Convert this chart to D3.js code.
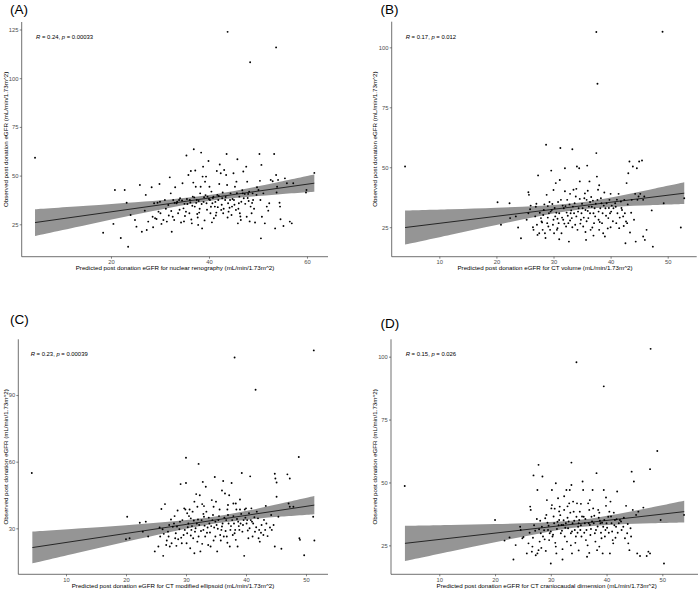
<!DOCTYPE html>
<html>
<head>
<meta charset="utf-8">
<script src="https://cdn.jsdelivr.net/npm/d3@7/dist/d3.min.js"></script>
<style>
  html, body { margin: 0; padding: 0; background: #ffffff; }
  svg { display: block; }
  text { font-family: "Liberation Sans", Arial, Helvetica, sans-serif; }
</style>
</head>
<body>
<div id="chart"></div>
<script>
// ---------- DATA (predicted x, observed y) ----------
const panelA = [
[4.5,59.2],[43.8,123.8],[53.7,115.8],[48.4,108.2],[18.4,20.7],[20.5,25.2],[20.8,42.6],[22.0,18.0],[22.8,42.6],[23.2,36.1],
[23.5,13.5],[24.0,29.8],[24.9,27.2],[25.2,23.8],[25.9,45.2],[26.3,21.2],[26.9,32.0],[27.1,40.1],[27.3,22.1],[27.6,26.4],
[28.3,44.0],[28.5,28.9],[28.6,23.5],[28.8,35.8],[29.0,28.1],[29.3,27.7],[29.5,36.1],[29.9,45.7],[30.0,36.6],[30.1,30.7],
[30.3,25.2],[30.7,27.2],[31.0,37.5],[31.4,26.4],[31.7,34.9],[32.0,49.1],[32.2,40.9],[32.4,21.2],[32.6,28.9],[32.7,37.5],
[32.9,27.2],[33.1,44.0],[33.4,35.8],[33.5,36.6],[33.7,30.7],[33.9,37.5],[34.1,38.4],[34.3,25.9],[34.6,46.1],[34.8,33.2],
[35.1,29.3],[35.4,60.3],[35.6,35.4],[35.8,50.3],[36.0,30.7],[36.1,37.5],[36.3,52.4],[36.5,25.5],[36.7,39.2],[36.8,46.4],
[36.9,63.5],[37.1,34.1],[37.2,52.6],[37.3,44.3],[37.5,37.5],[37.6,30.3],[37.8,24.7],[38.2,40.9],[38.3,44.3],[38.4,61.8],
[38.5,35.4],[38.6,22.9],[38.7,49.5],[38.8,54.6],[39.0,38.9],[39.2,46.9],[39.4,49.5],[39.5,35.8],[39.7,39.2],[39.9,57.5],
[40.1,44.3],[40.2,37.5],[40.3,30.7],[40.5,41.8],[40.7,35.8],[40.9,39.2],[41.0,28.1],[41.2,34.1],[41.6,52.4],[41.7,40.1],
[41.9,37.5],[42.1,45.7],[42.2,55.7],[42.4,51.2],[42.5,32.4],[42.7,38.4],[42.8,41.3],[42.9,30.7],[43.1,52.9],[43.3,37.5],
[43.5,50.3],[43.6,61.1],[43.7,45.2],[43.9,35.8],[44.0,31.5],[44.3,37.5],[44.4,40.9],[44.6,29.8],[44.7,34.1],[45.0,51.2],
[45.1,37.5],[45.3,44.3],[45.5,32.4],[45.6,46.9],[45.8,58.4],[45.9,25.5],[46.1,35.8],[46.2,39.2],[46.3,30.7],[46.5,27.2],
[46.6,36.6],[46.9,40.9],[47.0,52.1],[47.1,38.4],[47.3,40.6],[47.6,54.6],[47.7,28.9],[47.8,46.9],[48.0,40.6],[48.1,37.0],
[48.2,41.8],[48.5,34.1],[48.7,30.7],[48.9,40.9],[49.0,37.5],[49.4,25.9],[49.7,40.1],[50.1,42.6],[50.3,61.1],[50.4,47.3],
[50.5,37.5],[50.7,55.5],[50.8,28.9],[51.1,40.9],[51.4,25.5],[51.8,34.1],[52.1,32.0],[52.3,35.8],[52.6,47.8],[53.0,47.1],
[53.3,61.1],[53.5,22.9],[53.7,50.3],[53.8,41.3],[53.9,44.3],[54.1,47.8],[54.4,36.1],[54.5,34.1],[54.6,27.6],[55.2,24.1],
[55.5,48.6],[55.9,46.1],[56.5,26.4],[56.9,25.5],[57.2,46.1],[59.8,41.3],[59.9,42.6],[61.5,51.4],[50.6,17.8],
[33.0,36.0],[34.5,37.2],[35.0,35.5],[35.5,38.0],[36.2,36.2],[36.6,34.5],[37.0,38.8],[37.4,36.0],[37.9,37.0],[38.1,33.0],
[38.9,36.5],[39.3,40.0],[39.6,32.5],[40.0,38.0],[40.4,34.0],[40.8,38.5],[41.3,36.5],[41.5,31.0],[41.8,33.8],[42.0,39.5],
[42.6,35.0],[43.0,33.0],[43.4,39.0],[43.8,28.5],[44.2,33.5],[44.8,38.0],[45.2,35.0],[45.7,41.0],[46.0,33.0],[46.4,29.0],
[46.8,42.5],[47.4,35.5],[47.9,38.5],[48.3,26.5],[48.8,36.0],[49.2,33.0],[49.8,44.0],[31.2,33.0],[31.8,29.5],[32.3,31.8],
[34.0,32.5],[34.9,26.5],[35.3,31.5],[36.4,27.5],[37.7,28.5],[38.0,31.0],[39.1,27.0],[40.6,26.0],[41.4,29.5],[29.7,31.5]
];

const panelB = [
[4.0,50.3],[37.5,106.4],[37.7,84.8],[49.1,106.5],[20.2,35.4],[22.3,35.0],[20.8,26.0],[22.4,28.8],[23.4,29.5],[23.8,24.9],
[24.3,20.4],[25.3,28.1],[25.6,30.8],[25.6,39.6],[25.7,38.5],[25.9,32.5],[26.4,25.0],[26.5,23.9],[26.8,29.5],[27.1,26.0],
[27.2,21.8],[27.3,46.6],[27.5,22.5],[27.8,28.8],[27.9,27.4],[28.1,23.9],[28.2,30.1],[28.3,32.2],[28.5,22.5],[28.7,59.4],
[28.8,38.5],[28.9,26.7],[29.1,25.3],[29.2,30.8],[29.4,23.9],[29.6,48.6],[29.7,32.2],[29.8,34.7],[30.0,28.1],[30.1,22.5],
[30.3,29.5],[30.4,43.4],[30.6,23.9],[30.7,24.6],[30.9,26.7],[31.0,30.8],[31.1,44.7],[31.2,58.0],[31.3,36.4],[31.4,22.5],
[31.6,34.0],[31.7,28.1],[31.8,32.9],[32.0,49.6],[32.2,25.3],[32.3,31.1],[32.4,36.4],[32.6,26.7],[32.7,19.0],[32.9,38.9],
[33.0,30.8],[33.2,28.8],[33.3,57.5],[33.4,33.6],[33.5,40.6],[33.6,30.8],[33.8,26.0],[33.9,37.8],[34.1,50.3],[34.2,23.9],
[34.4,32.9],[34.5,49.6],[34.6,44.1],[34.8,28.1],[34.9,30.8],[35.1,32.9],[35.2,25.3],[35.4,37.1],[35.5,39.1],[35.6,32.2],
[35.7,19.7],[35.8,36.4],[35.9,50.7],[36.1,28.8],[36.2,33.6],[36.3,44.1],[36.4,30.8],[36.5,23.9],[36.6,37.6],[36.8,24.9],
[36.9,36.1],[37.0,30.8],[37.1,26.7],[37.2,32.9],[37.3,29.5],[37.5,55.9],[37.6,46.1],[37.7,36.4],[37.8,40.6],[37.9,28.1],
[38.0,23.9],[38.2,32.9],[38.3,37.1],[38.4,35.0],[38.5,26.7],[38.6,30.8],[38.7,22.5],[38.9,39.5],[39.0,21.1],[39.1,32.9],
[39.3,35.0],[39.6,28.8],[39.8,36.4],[39.9,30.8],[40.0,38.9],[40.2,34.0],[40.5,32.9],[40.8,35.0],[41.0,26.7],[41.2,30.8],
[41.4,38.9],[41.5,24.6],[41.8,35.7],[42.0,32.2],[42.2,29.5],[42.4,36.4],[42.5,30.8],[42.7,27.4],[42.8,43.4],[42.9,26.7],
[43.1,47.5],[43.3,52.4],[43.4,22.8],[43.7,36.4],[43.9,50.3],[44.1,28.1],[44.3,38.9],[44.6,49.6],[44.7,36.4],[44.9,37.8],
[45.0,52.4],[45.2,38.9],[45.5,52.8],[45.7,36.4],[45.9,37.8],[46.0,19.7],[46.3,23.9],[47.2,32.0],[47.4,16.9],[45.7,21.1],
[49.3,35.0],[52.3,24.9],[52.9,37.1],[44.4,19.0],[42.6,18.3],
[26.0,34.0],[26.9,33.5],[27.6,31.0],[28.0,27.0],[28.4,34.5],[29.0,29.0],[29.5,31.5],[29.9,26.0],[30.2,33.0],[30.5,31.0],
[30.8,35.5],[31.5,29.0],[31.9,26.5],[32.1,33.8],[32.5,29.8],[32.8,34.5],[33.1,32.0],[33.7,35.0],[34.0,29.5],[34.3,31.5],
[34.7,26.5],[35.0,34.8],[35.3,29.0],[35.8,27.5],[36.0,31.8],[36.7,33.5],[37.4,34.8],[37.9,31.5],[38.1,27.2],[38.8,34.0],
[39.2,29.8],[39.5,24.5],[40.1,31.5],[40.4,27.5],[40.9,33.5],[41.6,29.0],[41.9,33.0],[42.3,25.5],[43.0,34.5],[43.6,31.0],
[30.0,40.5],[32.0,40.0],[34.0,41.0],[36.0,40.2],[38.0,42.5],[40.0,25.0],[27.0,34.8],[29.3,35.5],[33.3,25.0],[35.6,23.0],
[37.0,21.5],[31.0,20.0],[28.6,20.5],[39.7,33.0],[41.1,36.5],[36.4,35.5],[34.6,36.8],[32.9,27.8],[30.7,28.5],[29.0,33.8]
];

const panelC = [
[4.3,54.9],[38.1,106.9],[41.6,92.4],[51.3,110.1],[48.8,62.1],[30.0,61.8],[32.1,59.0],[20.2,35.2],[20.6,25.5],[20.0,25.1],
[22.3,32.5],[22.8,28.5],[23.3,33.0],[23.7,26.3],[24.8,19.6],[25.4,21.8],[25.6,30.4],[25.7,26.3],[25.9,38.7],[26.1,29.6],
[26.2,17.6],[26.5,40.9],[26.7,22.5],[26.8,24.5],[27.1,26.3],[27.2,31.5],[27.3,21.8],[27.6,23.3],[27.8,30.7],[28.0,32.2],
[28.2,25.5],[28.3,27.8],[28.4,22.1],[28.7,25.1],[28.9,29.6],[29.1,49.9],[29.3,23.3],[29.4,33.7],[29.7,39.0],[29.8,29.3],
[29.9,38.5],[30.0,50.4],[30.1,23.3],[30.2,27.8],[30.4,32.2],[30.6,38.5],[30.7,21.0],[30.8,34.5],[30.9,29.3],[31.1,37.5],
[31.2,25.5],[31.4,18.8],[31.5,28.5],[31.7,45.4],[31.8,32.2],[31.9,39.7],[32.1,26.3],[32.2,31.5],[32.3,44.9],[32.4,19.6],
[32.6,33.7],[32.7,40.9],[32.8,50.9],[32.9,29.3],[33.0,35.2],[33.2,26.3],[33.3,48.7],[33.4,37.5],[33.6,30.4],[33.7,22.5],
[33.9,32.2],[34.0,28.1],[34.1,21.8],[34.3,42.7],[34.4,33.7],[34.6,39.7],[34.7,30.4],[34.8,53.1],[34.9,26.3],[35.1,31.5],
[35.2,19.6],[35.4,33.7],[35.6,38.5],[35.7,27.0],[35.8,24.5],[35.9,29.3],[36.1,32.2],[36.2,51.3],[36.3,26.3],[36.5,45.7],
[36.7,33.7],[36.8,26.3],[36.9,38.5],[37.1,32.2],[37.2,44.9],[37.3,21.8],[37.4,29.3],[37.6,50.4],[37.7,33.7],[37.8,27.0],
[37.9,41.2],[38.0,32.2],[38.2,29.3],[38.3,41.2],[38.4,38.5],[38.6,21.8],[38.7,33.0],[38.9,29.3],[39.0,38.5],[39.1,32.2],
[39.3,54.9],[39.4,28.5],[39.6,33.7],[39.7,17.6],[39.8,38.5],[40.0,39.0],[40.1,32.2],[40.2,33.7],[40.4,25.5],[40.6,30.0],
[40.7,53.4],[40.8,33.7],[40.9,39.0],[41.1,26.3],[41.2,32.2],[41.5,28.5],[41.8,37.5],[42.1,25.5],[42.2,29.3],[42.3,24.0],
[42.6,31.5],[42.9,27.0],[43.2,29.3],[43.4,32.2],[44.0,30.4],[44.3,29.3],[44.6,31.5],[44.8,21.8],[45.1,44.2],[45.4,35.2],
[44.8,54.6],[44.9,52.4],[45.1,50.6],[46.9,54.3],[47.3,52.4],[47.1,41.2],[47.3,39.7],[45.9,20.8],[48.9,25.5],[49.0,24.8],
[49.7,17.9],[51.2,35.2],[51.4,24.5],[47.9,39.7],[43.3,40.1],
[27.5,34.0],[28.5,30.8],[29.0,33.0],[29.6,27.0],[30.3,30.5],[30.5,35.5],[31.0,31.0],[31.3,33.5],[31.6,30.0],[32.0,34.0],
[32.5,28.8],[32.9,36.5],[33.1,31.2],[33.5,28.0],[33.8,34.8],[34.2,31.0],[34.5,36.0],[34.9,33.0],[35.3,29.8],[35.5,35.5],
[36.0,30.8],[36.4,34.8],[36.6,28.8],[37.0,36.0],[37.5,31.0],[37.9,35.5],[38.1,27.8],[38.5,34.2],[38.8,31.0],[39.2,36.5],
[39.5,31.5],[39.9,34.8],[40.3,29.0],[40.5,36.8],[41.0,33.0],[41.4,35.0],[41.7,30.5],[42.0,34.5],[42.5,28.0],[43.0,33.8],
[43.6,26.5],[44.2,36.0],[26.3,27.5],[27.0,28.5],[28.1,35.5],[29.2,25.8],[30.8,26.8],[31.9,24.0],[32.7,23.0],[34.6,24.5],
[36.9,23.5],[38.3,24.8],[33.0,40.0],[35.0,42.0],[37.0,40.5],[39.0,43.0],[31.4,42.0],[36.0,47.0],[30.2,36.8],[28.6,38.0]
];

const panelD = [
[3.8,48.6],[34.6,97.8],[39.5,88.2],[47.9,103.1],[49.1,62.5],[47.8,55.3],[27.8,57.0],[33.7,57.9],[20.0,35.1],[21.7,26.9],
[22.6,28.1],[23.3,19.4],[23.7,25.1],[24.5,32.4],[24.6,31.1],[24.9,27.8],[25.1,28.3],[25.7,21.8],[26.0,25.8],[26.3,40.4],
[26.4,39.1],[26.6,22.5],[26.7,24.5],[26.9,52.8],[27.2,30.8],[27.3,21.1],[27.6,21.8],[27.6,47.0],[27.8,23.1],[27.9,31.4],
[28.1,34.8],[28.2,29.8],[28.4,32.4],[28.5,52.4],[28.6,28.5],[28.9,27.4],[29.2,37.1],[29.4,34.0],[29.5,31.1],[29.7,27.1],
[29.8,29.8],[30.0,17.8],[30.1,39.7],[30.2,47.0],[30.3,28.5],[30.4,29.2],[30.6,33.8],[30.7,39.6],[30.9,49.7],[31.0,21.8],
[31.2,34.4],[31.3,43.7],[31.5,35.1],[31.6,40.4],[31.8,29.8],[31.9,33.1],[32.1,19.4],[32.2,33.1],[32.4,39.1],[32.5,28.5],
[32.7,33.8],[32.8,47.0],[33.0,36.0],[33.1,31.8],[33.3,41.7],[33.4,47.0],[33.6,29.8],[33.7,49.0],[33.8,21.8],[33.9,33.8],
[34.0,42.4],[34.1,38.4],[34.3,31.1],[34.5,28.5],[34.6,36.4],[34.7,41.7],[34.9,32.4],[35.0,33.8],[35.1,35.1],[35.2,38.4],
[35.3,31.1],[35.5,28.5],[35.7,50.4],[35.8,47.0],[35.9,36.4],[36.1,33.8],[36.3,27.1],[36.4,31.1],[36.5,20.5],[36.7,41.7],
[36.8,33.8],[36.9,39.1],[37.0,33.1],[37.1,29.1],[37.3,36.4],[37.5,47.0],[37.6,39.7],[37.7,33.8],[37.9,29.8],[38.1,31.1],
[38.2,53.7],[38.3,23.1],[38.5,39.1],[38.7,38.0],[38.8,34.8],[38.9,33.8],[39.1,27.8],[39.3,21.8],[39.4,32.4],[39.5,47.0],
[39.6,35.1],[39.8,31.1],[39.9,40.7],[40.0,33.8],[40.3,36.4],[40.5,38.4],[40.6,21.8],[40.7,42.4],[40.9,33.8],[41.1,27.1],
[41.2,25.8],[41.3,38.0],[41.5,35.1],[41.7,32.4],[41.8,35.4],[41.9,46.4],[42.2,33.8],[42.4,35.1],[42.7,31.1],[43.0,32.4],
[43.3,27.8],[43.5,40.7],[43.7,29.8],[43.9,25.8],[44.1,23.1],[44.3,31.8],[44.5,54.3],[44.7,39.1],[44.9,50.4],[45.3,37.1],
[45.5,21.8],[45.7,38.4],[46.0,20.8],[46.6,40.0],[47.2,20.8],[47.5,22.5],[47.8,21.8],[49.7,35.1],[50.3,17.8],[53.9,37.1],
[27.0,33.0],[27.5,35.5],[28.0,26.5],[28.8,31.0],[29.0,35.8],[29.6,32.8],[30.0,30.5],[30.5,36.5],[30.8,26.0],[31.1,31.5],
[31.4,33.0],[31.7,37.0],[32.0,30.8],[32.3,35.0],[32.6,32.0],[32.9,26.5],[33.2,34.5],[33.5,38.0],[33.8,30.5],[34.2,34.8],
[34.4,26.0],[34.8,30.0],[35.4,33.0],[35.6,36.5],[36.0,30.0],[36.2,35.5],[36.6,25.0],[37.2,31.5],[37.4,34.5],[37.8,36.8],
[38.0,26.5],[38.4,32.5],[38.6,36.0],[39.0,30.0],[39.2,34.0],[39.7,28.5],[40.1,32.0],[40.4,30.0],[40.8,36.5],[41.0,30.5],
[41.4,33.0],[41.6,28.0],[42.0,30.0],[42.6,34.5],[43.1,36.0],[43.8,33.5],[44.4,28.5],[26.2,30.0],[26.8,28.0],[28.3,24.0],
[29.1,22.8],[30.9,24.5],[32.1,23.5],[33.6,25.0],[35.0,23.0],[36.9,22.0],[38.7,24.5],[31.5,38.5],[33.0,40.5],[35.4,41.5],
[37.0,43.0],[30.2,41.0],[29.3,43.0],[32.4,44.5],[39.9,44.0]
];

// ---------- FITTED LINES & 95% BANDS ----------
// fit: [[x, y], [x, y]] ; band: [x, lower, upper]
const fitA = [[4.5, 25.9], [61.5, 46.1]];
const bandA = [[4.5,19.05,32.75],[15,24.70,34.54],[25,30.00,36.34],[32,33.54,37.76],[39.6,36.80,39.88],[47,38.87,43.05],[54,40.30,46.58],[61.5,41.65,50.55]];
const fitB = [[4.0, 24.86], [52.9, 39.18]];
const bandB = [[4.0,17.77,31.95],[12,21.90,32.50],[20,25.97,33.13],[27,29.40,33.80],[34.24,32.27,35.17],[41,33.58,37.82],[47,34.18,40.72],[52.9,34.66,43.70]];
const fitC = [[4.39, 21.34], [51.39, 40.45]];
const bandC = [[4.39,14.18,28.50],[12,18.96,29.90],[20,23.95,31.43],[28,28.73,33.15],[34.85,32.17,35.27],[41,34.12,38.32],[46,35.27,41.25],[51.39,36.35,44.55]];
const fitD = [[3.84, 25.80], [53.93, 38.41]];
const bandD = [[3.84,18.83,32.77],[12,22.60,33.10],[20,26.26,33.48],[28,29.75,34.01],[35.21,32.25,35.15],[42,33.34,37.48],[48,33.78,40.06],[53.93,34.09,42.73]];

// ---------- TICKS & TEXT ----------
const xTicksA = [20, 40, 60];
const yTicksA = [25, 50, 75, 100, 125];
const xTicksB = [10, 20, 30, 40, 50];
const yTicksB = [25, 50, 75, 100];
const xTicksC = [10, 20, 30, 40, 50];
const yTicksC = [30, 60, 90];
const xTicksD = [10, 20, 30, 40, 50];
const yTicksD = [25, 50, 75, 100];

const panelLabels = ["(A)", "(B)", "(C)", "(D)"];
const statR = ["0.24", "0.17", "0.23", "0.15"];
const statP = ["0.00033", "0.012", "0.00039", "0.026"];
const xTitles = [
  "Predicted post donation eGFR for nuclear renography (mL/min/1.73m^2)",
  "Predicted post donation eGFR for CT volume (mL/min/1.73m^2)",
  "Predicted post donation eGFR for CT modified ellipsoid (mL/min/1.73m^2)",
  "Predicted post donation eGFR for CT craniocaudal dimension (mL/min/1.73m^2)"
];
const yTitle = "Observed post donation eGFR (mL/min/1.73m^2)";

// ---------- LAYOUT ----------
const W = 700, H = 591;
const layout = [
  { data: panelA, fit: fitA, band: bandA, xt: xTicksA, yt: yTicksA, L: 21.7, R: 328, T: 22, B: 256.7,
    xd: [1.78, 64.29], yd: [8.37, 128.85], lab: [10, 14], ann: [36, 38.5], xtc: [175, 270], ytx: 7.5 },
  { data: panelB, fit: fitB, band: bandB, xt: xTicksB, yt: yTicksB, L: 391.7, R: 696.7, T: 21.7, B: 256.7,
    xd: [1.66, 55.08], yd: [12.7, 110.7], lab: [380.5, 14], ann: [405.7, 38.5], xtc: [545, 270], ytx: 377.3 },
  { data: panelC, fit: fitC, band: bandC, xt: xTicksC, yt: yTicksC, L: 18.3, R: 328, T: 339.3, B: 574.3,
    xd: [2.05, 53.67], yd: [9.3, 115.1], lab: [10, 323.5], ann: [30.7, 356], xtc: [173, 588], ytx: 7.5 },
  { data: panelD, fit: fitD, band: bandD, xt: xTicksD, yt: yTicksD, L: 391, R: 698, T: 339.3, B: 574.3,
    xd: [1.34, 56.4], yd: [13.5, 106.9], lab: [380.5, 327.5], ann: [405.7, 356], xtc: [546.7, 588], ytx: 376.5 }
];

const svg = d3.select("#chart").append("svg").attr("width", W).attr("height", H);
svg.append("rect").attr("width", W).attr("height", H).attr("fill", "#fff");

layout.forEach((p, i) => {
  const x = d3.scaleLinear().domain(p.xd).range([p.L, p.R]);
  const y = d3.scaleLinear().domain(p.yd).range([p.B, p.T]);
  const g = svg.append("g");

  // confidence band
  g.append("path").datum(p.band)
    .attr("d", d3.area().curve(d3.curveCatmullRom)
      .x(d => x(d[0])).y0(d => y(d[1])).y1(d => y(d[2])))
    .attr("fill", "#959595");

  // points
  g.append("g").selectAll("circle").data(p.data).join("circle")
    .attr("cx", d => x(d[0])).attr("cy", d => y(d[1])).attr("r", 0.95)
    .attr("fill", "#000");

  // regression line
  g.append("path").datum(p.fit)
    .attr("d", d3.line().x(d => x(d[0])).y(d => y(d[1])))
    .attr("fill", "none").attr("stroke", "#000").attr("stroke-width", 0.75);

  // axes
  const xa = g.append("g").attr("transform", `translate(0,${p.B})`)
    .call(d3.axisBottom(x).tickValues(p.xt).tickSize(2).tickSizeOuter(0).tickPadding(1.2));
  const ya = g.append("g").attr("transform", `translate(${p.L},0)`)
    .call(d3.axisLeft(y).tickValues(p.yt).tickSize(2).tickSizeOuter(0).tickPadding(1.2));
  [xa, ya].forEach(a => {
    a.select(".domain").attr("stroke", "#333").attr("stroke-width", 0.7);
    a.selectAll(".tick line").attr("stroke", "#333").attr("stroke-width", 0.6);
    a.selectAll(".tick text").attr("fill", "#4d4d4d").attr("font-size", 5.8)
      .attr("font-family", "'Liberation Sans', Arial, sans-serif");
  });
  xa.select(".domain").attr("d", `M${p.L},0H${p.R}`);
  ya.select(".domain").attr("d", `M0,${p.B}V${p.T}`);

  // titles
  g.append("text").attr("x", p.xtc[0]).attr("y", p.xtc[1]).attr("text-anchor", "middle")
    .attr("font-size", 6.2).attr("fill", "#000").text(xTitles[i]);
  g.append("text").attr("transform", `translate(${p.ytx},${(p.T + p.B) / 2}) rotate(-90)`)
    .attr("text-anchor", "middle").attr("font-size", 6.2).attr("fill", "#000").text(yTitle);

  // stats annotation
  const ann = g.append("text").attr("x", p.ann[0]).attr("y", p.ann[1])
    .attr("font-size", 5.9).attr("fill", "#000");
  ann.append("tspan").attr("font-style", "italic").text("R");
  ann.append("tspan").text(` = ${statR[i]}, `);
  ann.append("tspan").attr("font-style", "italic").text("p");
  ann.append("tspan").text(` = ${statP[i]}`);

  // panel label
  g.append("text").attr("x", p.lab[0]).attr("y", p.lab[1])
    .attr("font-size", 13.5).attr("fill", "#000").text(panelLabels[i]);
});
</script>
</body>
</html>
